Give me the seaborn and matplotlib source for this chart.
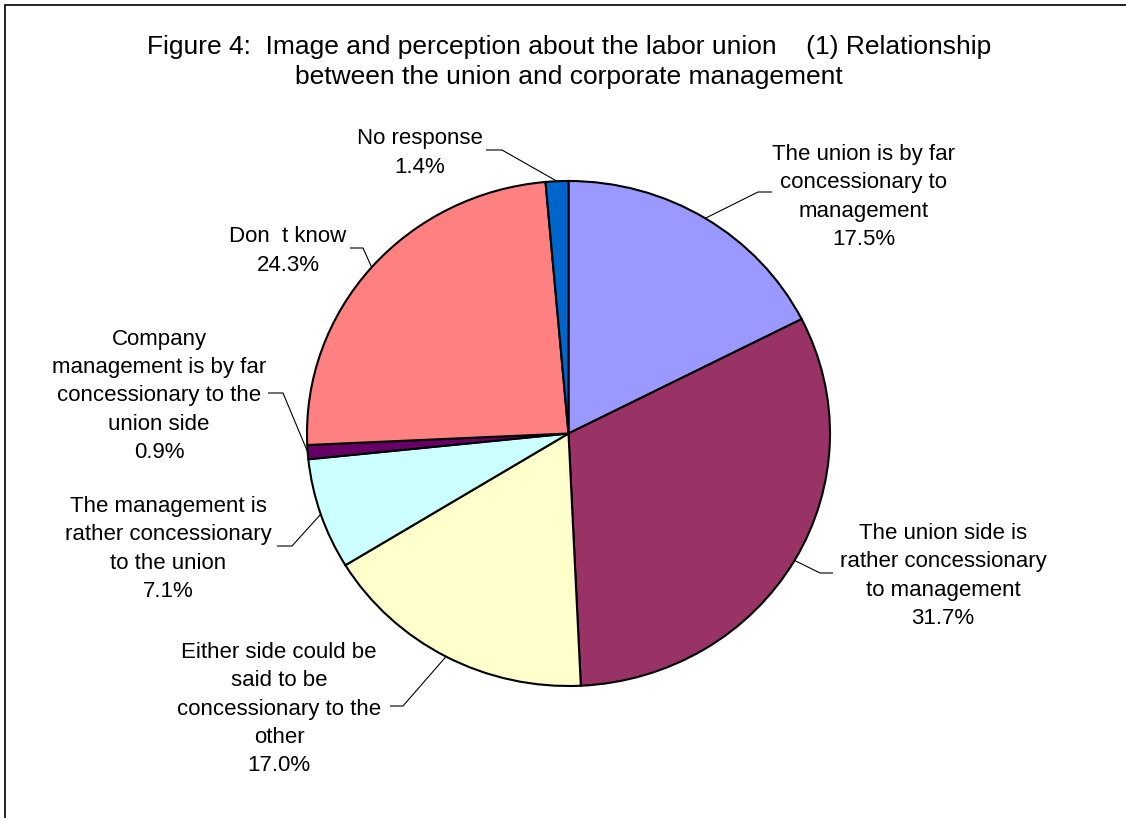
import numpy as np
import matplotlib
matplotlib.use("Agg")
import matplotlib.pyplot as plt
import seaborn as sns

# Survey responses, clockwise from 12 o'clock
categories = [
    "The union is by far\nconcessionary to\nmanagement",
    "The union side is\nrather concessionary\nto management",
    "Either side could be\nsaid to be\nconcessionary to the\nother",
    "The management is\nrather concessionary\nto the union",
    "Company\nmanagement is by far\nconcessionary to the\nunion side",
    "Don  t know",
    "No response",
]
shares = [17.5, 31.7, 17.0, 7.1, 0.9, 24.3, 1.4]
slice_colors = ["#9999FF", "#993366", "#FFFFCC", "#CCFFFF", "#660066", "#FF8080", "#0066CC"]

title_text = ("Figure 4:  Image and perception about the labor union    (1) Relationship\n"
              "between the union and corporate management")

# Label layout in figure pixels (from top-left):
# text centre (x, y), then leader elbow x, leader end x near the text, leader y
label_centres = [(864, 197), (943, 576), (279, 709), (168, 549), (159, 396), (288, 251), (420, 153)]
leader_elbows = [(758, 772, 192), (820, 833, 573), (403, 390, 706), (292, 277, 546),
                 (283, 268, 393), (363, 350, 248), (502, 486, 150)]

sns.set_theme(style="white")
plt.rcParams["font.family"] = ["Liberation Sans", "DejaVu Sans"]

W, H = 1126, 818
fig = plt.figure(figsize=(W / 100, H / 100), dpi=100)
fig.patch.set_facecolor("white")

# Pie axes (slightly wider than tall, like the original sheet)
cx, cy, rx, ry = 568.5, 433.5, 261.5, 252.5
ax = fig.add_axes([(cx - rx) / W, (H - cy - ry) / H, 2 * rx / W, 2 * ry / H])
palette = sns.color_palette(slice_colors)
wedges, _ = ax.pie(shares, colors=palette, startangle=90, counterclock=False,
                   radius=1.0, wedgeprops=dict(edgecolor="black", linewidth=1.5))
ax.set_aspect("auto")
ax.set_xlim(-1, 1)
ax.set_ylim(-1, 1)
ax.axis("off")

# Overlay in pixel coordinates for title, labels, leaders and the frame
ov = fig.add_axes([0, 0, 1, 1])
ov.set_xlim(0, W)
ov.set_ylim(H, 0)
ov.axis("off")
ov.patch.set_alpha(0)

fig.canvas.draw()
to_px = ov.transData.inverted()

for w, cat, val, (tx, ty), (bx, ex, ly) in zip(wedges, categories, shares,
                                               label_centres, leader_elbows):
    mid = np.deg2rad((w.theta1 + w.theta2) / 2)
    disp = ax.transData.transform((np.cos(mid), np.sin(mid)))
    px, py = to_px.transform(disp)
    ov.plot([ex, bx, px], [ly, ly, py], color="black", lw=0.8, solid_capstyle="butt")
    ov.text(tx, ty, f"{cat}\n{val:.1f}%", ha="center", va="center",
            multialignment="center", fontsize=16, linespacing=1.44, color="black")

ov.text(569, 62, title_text, ha="center", va="center", multialignment="center",
        fontsize=19, linespacing=1.32, color="black")

# Chart frame: left and top edges
ov.plot([5, 5, W], [H, 4.5, 4.5], color="black", lw=1.2, solid_joinstyle="miter")

fig.savefig("out.png", dpi=100, facecolor="white")
